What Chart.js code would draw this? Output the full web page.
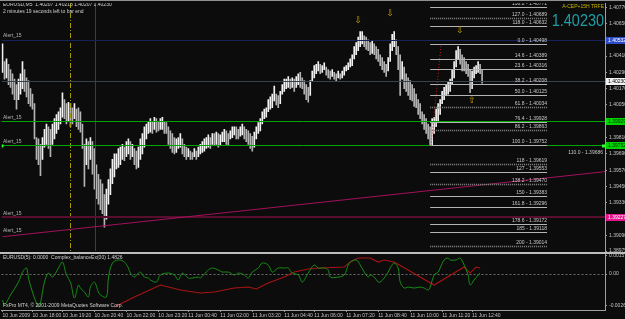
<!DOCTYPE html>
<html>
<head>
<meta charset="utf-8">
<script src="https://cdn.jsdelivr.net/npm/chart.js@4.4.0/dist/chart.umd.min.js"></script>
<style>
html, body { margin: 0; padding: 0; background: #0c0c0c; width: 625px; height: 319px; overflow: hidden }
#main { position: absolute; left: 0; top: 0 }
#sub { position: absolute; left: 0; top: 252px }
</style>
</head>
<body>
<canvas id="main" width="625" height="252"></canvas>
<canvas id="sub" width="625" height="67"></canvas>
<script>
// EURUSD M5 bars, high / low
const hi = [
  1.4050,1.4037,1.4039,1.4035,1.4031,1.4028,1.4024,1.4020,1.4024,1.4028,
  1.4037,1.4031,1.4025,1.4023,1.4017,1.4013,1.4006,1.3981,1.3980,1.3976,
  1.3981,1.3987,1.3991,1.3989,1.3987,1.3991,1.3995,1.3998,1.4000,1.4003,
  1.4014,1.4009,1.4006,1.4007,1.4006,1.4003,1.4006,1.4002,1.4003,1.4000,
  1.3991,1.3976,1.3980,1.3978,1.3981,1.3978,1.3973,1.3961,1.3954,1.3950,
  1.3947,1.3939,1.3943,1.3950,1.3958,1.3965,1.3969,1.3969,1.3973,1.3974,
  1.3976,1.3974,1.3978,1.3980,1.3978,1.3976,1.3973,1.3971,1.3974,1.3980,
  1.3984,1.3989,1.3991,1.3993,1.3995,1.3993,1.3996,1.3995,1.3993,1.3995,
  1.3996,1.3993,1.3992,1.3989,1.3986,1.3984,1.3981,1.3980,1.3981,1.3984,
  1.3980,1.3976,1.3974,1.3973,1.3971,1.3970,1.3973,1.3971,1.3974,1.3976,
  1.3978,1.3980,1.3981,1.3983,1.3981,1.3984,1.3984,1.3985,1.3984,1.3983,
  1.3985,1.3987,1.3986,1.3984,1.3986,1.3989,1.3989,1.3989,1.3987,1.3989,
  1.3991,1.3989,1.3987,1.3986,1.3984,1.3982,1.3985,1.3989,1.3992,1.3995,
  1.4000,1.4002,1.4003,1.4009,1.4011,1.4013,1.4019,1.4013,1.4012,1.4015,
  1.4020,1.4024,1.4024,1.4026,1.4024,1.4025,1.4024,1.4026,1.4028,1.4029,
  1.4025,1.4023,1.4020,1.4018,1.4023,1.4030,1.4034,1.4035,1.4037,1.4035,
  1.4034,1.4036,1.4033,1.4031,1.4030,1.4031,1.4029,1.4028,1.4030,1.4028,
  1.4030,1.4033,1.4034,1.4036,1.4039,1.4042,1.4048,1.4051,1.4055,1.4059,
  1.4059,1.4056,1.4055,1.4053,1.4051,1.4052,1.4050,1.4048,1.4046,1.4042,
  1.4040,1.4037,1.4035,1.4040,1.4050,1.4057,1.4059,1.4053,1.4048,1.4042,
  1.4037,1.4033,1.4028,1.4025,1.4023,1.4020,1.4017,1.4013,1.4009,1.4006,
  1.4000,1.3998,1.3995,1.3991,1.3989,1.3995,1.3996,1.4002,1.4006,1.4009,
  1.4015,1.4018,1.4020,1.4022,1.4024,1.4031,1.4037,1.4045,1.4048,1.4046,
  1.4042,1.4040,1.4037,1.4035,1.4031,1.4030,1.4033,1.4034,1.4037,1.4035,
  1.4031
]
const lo = [
  1.4029,1.4024,1.4025,1.4020,1.4018,1.4013,1.4009,1.4002,1.4009,1.4013,
  1.4017,1.4015,1.4011,1.4006,1.4004,1.4002,1.3980,1.3965,1.3961,1.3953,
  1.3965,1.3974,1.3976,1.3973,1.3967,1.3976,1.3980,1.3984,1.3987,1.3991,
  1.3996,1.3995,1.3991,1.3993,1.3989,1.3991,1.3995,1.3989,1.3987,1.3985,
  1.3973,1.3945,1.3961,1.3958,1.3965,1.3954,1.3943,1.3936,1.3932,1.3928,
  1.3925,1.3915,1.3921,1.3932,1.3939,1.3947,1.3952,1.3958,1.3959,1.3961,
  1.3965,1.3964,1.3967,1.3969,1.3965,1.3967,1.3961,1.3958,1.3959,1.3965,
  1.3969,1.3974,1.3980,1.3984,1.3985,1.3984,1.3987,1.3985,1.3986,1.3987,
  1.3987,1.3984,1.3984,1.3976,1.3973,1.3970,1.3969,1.3970,1.3973,1.3974,
  1.3969,1.3967,1.3965,1.3967,1.3965,1.3965,1.3967,1.3965,1.3967,1.3969,
  1.3970,1.3971,1.3973,1.3974,1.3973,1.3976,1.3975,1.3976,1.3974,1.3975,
  1.3978,1.3978,1.3976,1.3975,1.3980,1.3981,1.3983,1.3980,1.3980,1.3982,
  1.3983,1.3980,1.3978,1.3976,1.3973,1.3971,1.3974,1.3980,1.3984,1.3986,
  1.3991,1.3995,1.3996,1.4000,1.4002,1.4003,1.4008,1.4005,1.4003,1.4006,
  1.4013,1.4015,1.4017,1.4018,1.4017,1.4018,1.4015,1.4018,1.4020,1.4018,
  1.4017,1.4013,1.4009,1.4007,1.4012,1.4023,1.4025,1.4028,1.4030,1.4028,
  1.4029,1.4031,1.4027,1.4025,1.4024,1.4026,1.4024,1.4023,1.4025,1.4024,
  1.4025,1.4027,1.4030,1.4031,1.4033,1.4034,1.4039,1.4042,1.4045,1.4048,
  1.4050,1.4048,1.4046,1.4045,1.4042,1.4043,1.4042,1.4039,1.4037,1.4034,
  1.4031,1.4029,1.4026,1.4030,1.4037,1.4045,1.4048,1.4042,1.4031,1.4012,
  1.4024,1.4017,1.4015,1.4012,1.4009,1.4008,1.4004,1.4003,1.3998,1.3995,
  1.3991,1.3987,1.3984,1.3980,1.3975,1.3975,1.3984,1.3989,1.3993,1.3998,
  1.4006,1.4009,1.4012,1.4013,1.4015,1.4020,1.4025,1.4033,1.4039,1.4035,
  1.4030,1.4030,1.4028,1.4026,1.4014,1.4017,1.4025,1.4028,1.4029,1.4028,
  1.4021
]
const barSlots = 302

const priceTicks = [1.40770,1.40650,1.40530,1.40410,1.40290,1.40170,1.40050,1.39930,1.39810,1.39690,1.39570,1.39450,1.39330,1.39210,1.39090,1.38975]

// horizontal lines on the chart and their price tags on the axis
const levelPrices = [1.40532, 1.40230, 1.39929, 1.39752, 1.39227]
const levelTags = ['1.40532', '1.40230', '1.39929', '1.39752', '1.39227']

// trend line: bar index / price at both ends
const trendIdx = [0, 302]
const trendPrice = [1.3908, 1.3956]

// vertical lines (bar index)
const vLineIdx = [34, 46.5]

// fibonacci object
const fibNames = ['138.2','127.0','118.0','0.0','14.6','23.6','38.2','50.0','61.8','76.4','86.2','100.0','118','127','138.2','150','161.8','178.6','185','200']
const fibPrices = [1.40771,1.40689,1.40632,1.40498,1.40389,1.40316,1.40208,1.40125,1.40034,1.39928,1.39863,1.39752,1.39619,1.39553,1.39470,1.39383,1.39296,1.39172,1.39118,1.39014]
const fibFrom = 214
const fibTo = 272.5
const fibBaseIdx = [214.5, 219.5]
const fibBasePrice = [1.39752, 1.40498]

// fractal arrows
const arrowIdx = [178, 194, 229, 235]
const arrowPrice = [1.4067, 1.4072, 1.4060, 1.4008]
const arrowUp = [false, false, false, true]

// indicator window
const greenIdx = [0,1,4,8,10,12,13,15,18,19,
  21,23,25,28,30,32,34,36,38,39,
  41,43,44,46,48,49,52,53,55,58,
  61,63,64,66,68,69,71,73,74,77,
  79,83,86,88,90,93,95,98,99,103,
  105,108,110,113,116,118,121,123,125,128,
  130,133,135,138,141,143,145,148,150,153,
  156,158,161,163,164,168,171,173,174,177,
  179,181,183,184,186,188,189,191,193,194,
  196,198,199,201,203,206,209,211,213,214,
  216,218,219,221,223,224,227,229,231,233,
  234,236,238,239]
const greenVal = [-0.00213,-0.00254,-0.00172,-0.00066,0.00016,0.00049,-0.00033,-0.00148,-0.0027,-0.00238,
  -0.00066,0.00008,-0.00025,0.00049,0.00098,-0.00008,-0.00066,-0.00197,-0.0009,-0.00115,
  -0.00148,-0.00189,-0.00107,-0.00066,-0.00148,-0.00172,-0.00189,-0.00033,0.0009,0.00115,
  0.00098,0.00049,0.00008,-0.00025,0.00008,0.00016,-0.00025,-0.00033,-0.00049,-0.00066,
  -0.00008,0.00008,-0.00008,-0.00049,0.00008,-0.00033,-0.00033,-0.00025,-0.00033,0.00033,
  0.00049,0.00033,0.00016,0.00016,-0.00008,0.00008,-0.00008,-0.00033,0.00016,0.00049,
  0.0009,0.00074,0.00016,0.00049,0.00049,0.00049,0.00008,-0.00008,-0.00066,0.00008,
  0.00074,0.00049,0.00049,0.00033,-0.00025,-0.00025,-0.00008,0.00074,0.00098,0.00115,
  0.00074,0.00016,-0.00025,-0.00008,-0.00025,-0.00066,-0.00066,-0.00033,0.00016,0.00049,
  0.0009,0.00049,-0.00066,-0.00115,-0.00107,-0.00115,-0.00107,-0.00115,-0.00131,-0.00107,
  -0.00008,0.00016,0.00049,0.00115,0.00131,0.00115,0.00115,0.00131,0.00074,-0.00008,
  -0.0009,-0.00049,-0.00008,0.00008]
const redIdx = [56,66,79,83,89,99,106,116,123,127,133,141,146,153,159,171,174,178,181,184,188,191,196,216,231,234,237,239]
const redVal = [-0.0027,-0.00189,-0.0009,-0.00107,-0.00131,-0.00156,-0.00148,-0.00115,-0.00107,-0.00123,-0.00074,-0.00025,0.00016,0.00041,0.00049,0.00057,0.00098,0.00131,0.00131,0.00131,0.00098,0.00115,0.00098,-0.0009,0.00057,0.00008,0.00057,0.00049]
const subTicks = [0.0015, 0, -0.0026]
const subTickLabels = ['0.0015', '0.00', '-0.0026']

const timeIdx = [0,15,30,46,62,78,93,109,125,141,156,172,188,204,220,235]
const timeLabels = ['10 Jun 2009','10 Jun 18:00','10 Jun 19:20','10 Jun 20:40','10 Jun 22:00','10 Jun 23:20','11 Jun 00:40','11 Jun 02:00','11 Jun 03:20','11 Jun 04:40','11 Jun 06:00','11 Jun 07:20','11 Jun 08:40','11 Jun 10:00','11 Jun 11:20','11 Jun 12:40']

const FONT = '"Liberation Sans", Arial, sans-serif'
const small = '5px ' + FONT

function seg(ctx, x1, y1, x2, y2) {
  ctx.beginPath()
  ctx.moveTo(x1, y1)
  ctx.lineTo(x2, y2)
  ctx.stroke()
}

const levelLine = ['#17225a', '#3a424c', '#00a800', '#00a800', '#5a0e2e']
const levelWidth = [1, 1, 1, 1, 2]
const tagBg = ['#2f4cc8', '#f2f2f2', '#00d400', '#00d400', '#e6148c']
const tagFg = ['#ffffff', '#000000', '#003000', '#003000', '#ffffff']
const fibDotted = new Set([1, 8, 10, 12, 14, 19])

const mainOverlay = {
  id: 'mainOverlay',
  afterDatasetsDraw(chart) {
    const { ctx, chartArea: a, scales: { x, y } } = chart
    const px = v => x.getPixelForValue(v)
    const py = v => y.getPixelForValue(v)

    ctx.save()
    ctx.beginPath()
    ctx.rect(a.left, a.top, a.right - a.left, a.bottom - a.top)
    ctx.clip()

    // vertical lines
    ctx.lineWidth = 1
    ctx.strokeStyle = '#a89a00'
    ctx.setLineDash([5, 2, 1, 2])
    let vx = Math.round(px(vLineIdx[0])) + 0.5
    seg(ctx, vx, a.top, vx, a.bottom)
    ctx.setLineDash([])
    ctx.strokeStyle = '#8c1446'
    vx = Math.round(px(vLineIdx[1])) + 0.5
    seg(ctx, vx, a.top, vx, a.bottom)

    // horizontal levels
    levelPrices.forEach((p, i) => {
      ctx.strokeStyle = levelLine[i]
      ctx.lineWidth = levelWidth[i]
      const yy = levelWidth[i] === 1 ? Math.round(py(p)) + 0.5 : Math.round(py(p))
      seg(ctx, a.left, yy, a.right, yy)
    })

    // trend line
    ctx.strokeStyle = '#a3125c'
    ctx.lineWidth = 1
    seg(ctx, px(trendIdx[0]), py(trendPrice[0]), px(trendIdx[1]), py(trendPrice[1]))

    // fibonacci
    const fx1 = px(fibFrom), fx2 = px(fibTo)
    ctx.font = small
    ctx.textAlign = 'right'
    ctx.textBaseline = 'bottom'
    fibPrices.forEach((p, i) => {
      const yy = Math.round(py(p)) + 0.5
      if (fibDotted.has(i)) {
        ctx.strokeStyle = '#8a8a8a'
        ctx.lineWidth = 1.6
        ctx.setLineDash([1, 1])
      } else {
        ctx.strokeStyle = '#b4b4b4'
        ctx.lineWidth = 1
        ctx.setLineDash([])
      }
      seg(ctx, fx1, yy, fx2, yy)
      ctx.setLineDash([])
      ctx.fillStyle = '#c8c8c8'
      ctx.fillText(fibNames[i] + ' - ' + p.toFixed(5), fx2, yy - 1)
    })
    ctx.fillText('110.0 - 1.39686', a.right - 2, py(1.39686) + 1)

    ctx.strokeStyle = '#c02020'
    ctx.lineWidth = 1
    ctx.setLineDash([1, 2])
    seg(ctx, px(fibBaseIdx[0]), py(fibBasePrice[0]), px(fibBaseIdx[1]), py(fibBasePrice[1]))
    ctx.setLineDash([])

    // fractal arrows
    ctx.font = '9px "DejaVu Sans"'
    ctx.textAlign = 'center'
    ctx.textBaseline = 'middle'
    ctx.fillStyle = '#c9a200'
    arrowIdx.forEach((i, k) => {
      ctx.fillText(arrowUp[k] ? '\u21e7' : '\u21e9', px(i), py(arrowPrice[k]))
    })

    // alert labels
    ctx.font = small
    ctx.textAlign = 'left'
    ctx.textBaseline = 'bottom'
    ctx.fillStyle = '#b4b4b4'
    ;[0, 2, 3, 4].forEach(i => ctx.fillText('Alert_15', 3, py(levelPrices[i]) - 1))
    ctx.fillText('Alert_15', 3, py(trendPrice[0]) - 4)
    ctx.fillStyle = '#30ff30'
    ctx.fillRect(a.left, py(levelPrices[3]) - 1, 2, 3)
    ctx.fillRect(a.right - 3, py(levelPrices[3]) - 1, 3, 3)

    // header
    ctx.fillStyle = '#d0d0d0'
    ctx.textBaseline = 'middle'
    ctx.fillText('EURUSD,M5  1.40207 1.40213 1.40207 1.40230', 3, 5)
    ctx.fillText('2 minutes 19 seconds left to bar end', 3, 12)

    // big price, top right
    ctx.textAlign = 'right'
    ctx.fillStyle = '#c8b400'
    ctx.fillText('A-CEP+15H TRFE', 604, 7)
    ctx.save()
    ctx.translate(604, 21)
    ctx.scale(0.85, 1)
    ctx.font = '17px ' + FONT
    ctx.fillStyle = '#1f9ea6'
    ctx.fillText('1.40230', 0, 0)
    ctx.restore()
    ctx.restore()

    // price tags on the axis
    ctx.save()
    ctx.font = small
    ctx.textBaseline = 'middle'
    ctx.textAlign = 'left'
    levelPrices.forEach((p, i) => {
      const yy = Math.round(py(p))
      ctx.fillStyle = tagBg[i]
      ctx.fillRect(a.right + 1, yy - 3, 19, 7)
      ctx.fillStyle = tagFg[i]
      ctx.fillText(levelTags[i], a.right + 3, yy + 0.5)
    })
    ctx.fillStyle = '#909090'
    ctx.fillRect(0, 0, 625, 1)
    ctx.restore()
  }
}

const barColors = hi.map((h, i) => i === 0 || h + lo[i] >= hi[i - 1] + lo[i - 1] ? '#f2f2f2' : '#b4b4b4')

new Chart(document.getElementById('main'), {
  type: 'bar',
  data: {
    labels: Array.from({ length: barSlots }, (_, i) => i),
    datasets: [{
      data: hi.map((h, i) => [lo[i], h]),
      backgroundColor: barColors,
      borderWidth: 0,
      barThickness: 1
    }]
  },
  options: {
    responsive: false,
    animation: false,
    layout: { padding: { left: 1.5, top: 3, bottom: 1, right: 0 } },
    plugins: { legend: { display: false }, tooltip: { enabled: false } },
    scales: {
      x: { display: false, offset: true, grid: { display: false } },
      y: {
        position: 'right',
        min: 1.38975,
        max: 1.40801,
        afterFit(s) { s.width = 20; s.paddingTop = 0; s.paddingBottom = 0 },
        afterBuildTicks(s) { s.ticks = priceTicks.map(v => ({ value: v })) },
        ticks: { color: '#c4c4c4', font: { size: 5, family: FONT }, padding: 2, callback: v => v.toFixed(5) },
        grid: { drawOnChartArea: false, color: '#9a9a9a', tickLength: 2 },
        border: { color: '#a0a0a0' }
      }
    }
  },
  plugins: [mainOverlay]
})

const subOverlay = {
  id: 'subOverlay',
  beforeDatasetsDraw(chart) {
    const { ctx, chartArea: a, scales: { y } } = chart
    ctx.save()
    ctx.strokeStyle = '#6a6a6a'
    ctx.setLineDash([2, 2])
    const yy = Math.round(y.getPixelForValue(0)) + 0.5
    seg(ctx, a.left, yy, a.right, yy)
    ctx.restore()
  },
  afterDatasetsDraw(chart) {
    const { ctx, chartArea: a } = chart
    ctx.save()
    ctx.fillStyle = '#bcbcbc'
    ctx.fillRect(0, 0, 625, 2)
    ctx.font = small
    ctx.textBaseline = 'middle'
    ctx.fillStyle = '#d0d0d0'
    ctx.fillText('EURUSD(5): 0.0000  Complex_balanceEx(00) 1.4826', 3, 6)
    ctx.fillText('FxPro MT4, \u00a9 2001-2009 MetaQuotes Software Corp.', 3, a.bottom - 4)
    ctx.restore()
  }
}

new Chart(document.getElementById('sub'), {
  type: 'line',
  data: {
    datasets: [
      {
        data: greenIdx.map((i, k) => ({ x: i, y: greenVal[k] })),
        borderColor: '#178c17',
        borderWidth: 1,
        pointRadius: 0,
        tension: 0.35
      },
      {
        data: redIdx.map((i, k) => ({ x: i, y: redVal[k] })),
        borderColor: '#a81414',
        borderWidth: 1.1,
        pointRadius: 0,
        tension: 0
      }
    ]
  },
  options: {
    responsive: false,
    animation: false,
    layout: { padding: { left: 1.5, top: 2, right: 0, bottom: 0 } },
    plugins: { legend: { display: false }, tooltip: { enabled: false } },
    scales: {
      x: {
        type: 'linear',
        min: -0.5,
        max: barSlots - 0.5,
        afterFit(s) { s.height = 9; s.paddingLeft = 0; s.paddingRight = 0 },
        afterBuildTicks(s) { s.ticks = timeIdx.map(v => ({ value: v })) },
        ticks: {
          align: 'start', color: '#c4c4c4', font: { size: 5, family: FONT },
          padding: 1, maxRotation: 0, autoSkip: false,
          callback: v => timeLabels[timeIdx.indexOf(v)]
        },
        grid: { drawOnChartArea: false, color: '#9a9a9a', tickLength: 2 },
        border: { color: '#a0a0a0' }
      },
      y: {
        position: 'right',
        min: -0.00295,
        max: 0.00164,
        afterFit(s) { s.width = 20; s.paddingTop = 0; s.paddingBottom = 0 },
        afterBuildTicks(s) { s.ticks = subTicks.map(v => ({ value: v })) },
        ticks: { color: '#c4c4c4', font: { size: 5, family: FONT }, padding: 2, callback: v => subTickLabels[subTicks.indexOf(v)] },
        grid: { drawOnChartArea: false, color: '#9a9a9a', tickLength: 2 },
        border: { color: '#a0a0a0' }
      }
    }
  },
  plugins: [subOverlay]
})
</script>
</body>
</html>
